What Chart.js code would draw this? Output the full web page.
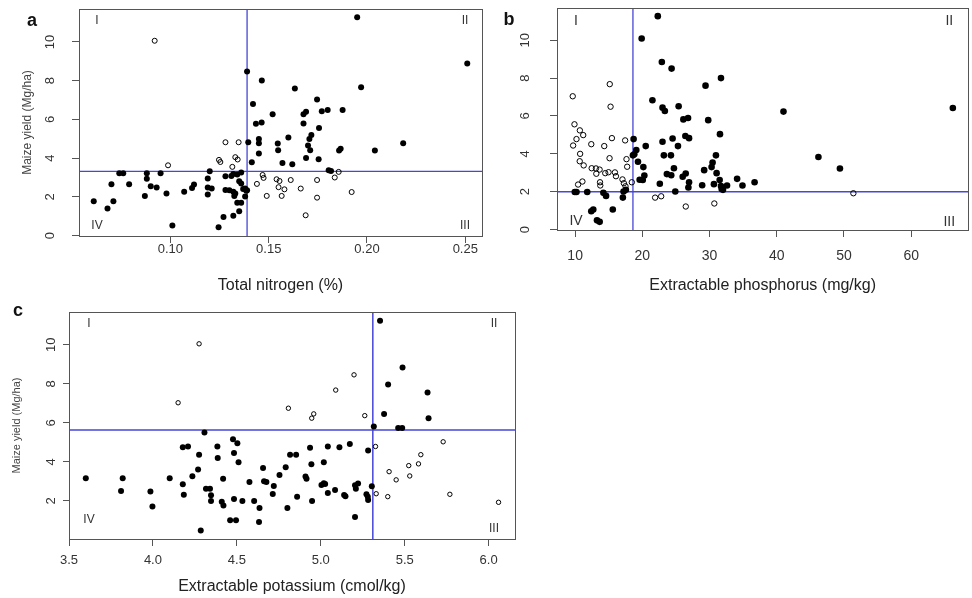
<!DOCTYPE html>
<html lang="en">
<head>
<meta charset="UTF-8" />
<title>Maize yield vs soil N, P, K</title>
<script src="https://cdn.jsdelivr.net/npm/chart.js"></script>
<style>
  body { margin: 0; background: #fff; }
  #wrap { position: relative; width: 972px; height: 598px; }
  canvas { position: absolute; }
</style>
</head>
<body>
<div id="wrap">
  <canvas id="chartA" width="490" height="300" style="left:0;top:0"></canvas>
  <canvas id="chartB" width="482" height="300" style="left:490px;top:0"></canvas>
  <canvas id="chartC" width="520" height="298" style="left:0;top:300px"></canvas>
</div>
<script>
// ---- data: [nutrient, maize yield Mg/ha] ----
// a: total nitrogen (%)
const nitrogenSolid = [
  [0.061,1.77],[0.068,1.40],[0.070,2.65],[0.074,3.22],[0.076,3.22],[0.071,1.77],[0.079,2.65],
  [0.088,3.22],[0.088,2.93],[0.090,2.55],[0.093,2.48],[0.087,2.05],[0.095,3.22],[0.098,2.17],
  [0.101,0.52],[0.107,2.27],[0.111,2.46],[0.112,2.64],[0.119,2.95],[0.119,2.48],[0.121,2.43],
  [0.119,2.12],[0.120,3.32],[0.128,3.06],[0.131,3.08],[0.132,3.18],[0.134,3.15],[0.136,3.26],
  [0.128,2.36],[0.130,2.34],[0.132,2.27],[0.133,2.17],[0.1325,2.05],[0.135,2.81],[0.136,2.69],
  [0.137,2.41],[0.138,2.43],[0.1386,2.31],[0.139,2.34],[0.138,2.02],[0.134,1.70],[0.136,1.70],
  [0.135,1.26],[0.132,1.03],[0.127,0.96],[0.1245,0.43],
  [0.139,8.47],[0.1465,8.01],[0.142,6.79],[0.1435,5.77],[0.1464,5.84],[0.1396,4.82],[0.145,4.99],
  [0.145,4.77],[0.145,4.24],[0.1414,3.79],[0.195,11.27],[0.251,8.89],[0.1633,7.60],[0.197,7.66],
  [0.1746,7.03],[0.152,6.27],[0.1677,6.27],[0.169,6.39],[0.177,6.42],[0.180,6.49],[0.1876,6.49],
  [0.1677,5.79],[0.1756,5.55],[0.1717,5.20],[0.1707,4.99],[0.160,5.06],[0.1546,4.75],[0.1548,4.41],
  [0.170,4.65],[0.1711,4.41],[0.169,4.01],[0.1754,3.94],[0.157,3.75],[0.162,3.68],[0.1858,4.39],
  [0.1866,4.48],[0.204,4.39],[0.2184,4.77],[0.1805,3.37],[0.1817,3.34]
];
const nitrogenOpen = [
  [0.092,10.06],[0.128,4.82],[0.1347,4.82],[0.1247,3.91],[0.1254,3.80],[0.133,4.05],[0.1342,3.93],
  [0.1315,3.55],[0.0988,3.63],[0.1469,3.13],[0.1474,2.98],[0.144,2.67],[0.149,2.05],[0.154,2.91],
  [0.1555,2.82],[0.155,2.50],[0.158,2.39],[0.1566,2.05],[0.1856,3.29],[0.1836,3.00],[0.1746,2.87],
  [0.1922,2.25],[0.1746,1.96],[0.1688,1.05],[0.1663,2.43],[0.1612,2.87]
];
const nitrogenCut = [0.139, 3.32];
const nitrogenTicks = [0.10, 0.15, 0.20, 0.25];

// b: extractable phosphorus (mg/kg)
const phosphorusSolid = [
  [22.3,11.27],[19.9,10.09],[22.9,8.85],[24.35,8.50],[21.5,6.83],[23.0,6.44],[23.35,6.26],
  [25.4,6.51],[26.1,5.82],[26.8,5.89],[29.8,5.78],[29.4,7.60],[31.7,8.00],[31.55,5.04],
  [18.7,4.78],[19.1,4.20],[18.8,3.98],[18.6,3.92],[20.5,4.41],[23.0,4.64],[24.5,4.81],
  [25.3,4.41],[26.4,4.94],[26.95,4.83],[19.35,3.58],[20.15,3.30],[20.3,2.86],[20.06,2.62],
  [19.6,2.63],[23.2,3.92],[24.25,3.92],[23.65,2.93],[24.3,2.87],[24.7,3.24],[22.6,2.42],
  [26.0,2.79],[26.45,2.96],[26.95,2.50],[26.85,2.22],[24.9,2.01],[29.2,3.14],[28.9,2.34],
  [30.45,3.54],[30.3,3.30],[30.95,3.92],[30.65,2.40],[31.05,2.98],[31.5,2.62],[31.7,2.30],
  [31.8,2.14],[32.0,2.10],[32.6,2.33],[34.1,2.68],[34.9,2.33],[36.7,2.50],[41.0,6.23],
  [66.2,6.42],[46.2,3.83],[49.4,3.23],[9.95,1.99],[10.2,1.99],[11.8,1.99],[14.2,1.94],
  [14.6,1.78],[12.4,0.97],[12.7,1.06],[13.25,0.49],[13.65,0.41],[15.6,1.06],[17.1,1.69],
  [17.2,2.01],[17.55,2.10]
];
const phosphorusOpen = [
  [9.64,7.04],[15.15,7.68],[15.27,6.49],[9.9,5.56],[10.7,5.24],[11.2,4.99],[10.2,4.78],
  [9.7,4.44],[12.4,4.51],[14.33,4.41],[15.47,4.83],[17.44,4.71],[10.74,4.00],[10.68,3.61],
  [11.27,3.39],[15.12,3.77],[17.64,3.72],[17.74,3.32],[12.46,3.24],[13.1,3.23],[13.64,3.17],
  [13.15,2.95],[14.48,2.98],[14.97,3.03],[15.92,3.02],[16.07,2.82],[13.7,2.50],[13.74,2.33],
  [11.08,2.54],[10.44,2.38],[17.04,2.65],[17.25,2.45],[17.49,2.29],[18.43,2.50],[21.9,1.69],
  [22.8,1.76],[26.46,1.22],[30.71,1.38],[51.4,1.92]
];
const phosphorusCut = [18.6, 2.0];
const phosphorusTicks = [10, 20, 30, 40, 50, 60];

// c: extractable potassium (cmol/kg)
const potassiumSolid = [
  [3.60,3.16],[3.82,3.16],[3.81,2.51],[3.985,2.48],[3.997,1.71],[4.10,3.16],[4.178,2.85],
  [4.184,2.32],[4.178,4.75],[4.209,4.79],[4.235,3.27],[4.269,3.61],[4.275,4.37],[4.307,5.50],
  [4.316,2.63],[4.34,2.63],[4.346,2.29],[4.346,2.00],[4.285,0.48],[4.384,4.79],[4.386,4.20],
  [4.418,3.14],[4.41,1.96],[4.42,1.76],[4.477,5.16],[4.503,4.96],[4.483,4.46],[4.51,3.98],
  [4.483,2.10],[4.533,2.00],[4.46,1.01],[4.495,1.01],[4.575,2.97],[4.603,2.00],[4.635,1.64],
  [4.632,0.92],[4.656,3.69],[4.662,3.01],[4.676,2.97],[4.72,2.77],[4.714,2.36],[4.754,3.33],
  [4.791,3.73],[4.801,1.64],[4.817,4.37],[4.853,4.37],[4.859,2.22],[4.909,3.25],[4.915,3.14],
  [4.936,4.72],[4.944,3.88],[4.948,2.00],[5.004,2.82],[5.018,2.91],[5.026,2.87],[5.018,3.98],
  [5.042,4.79],[5.042,2.41],[5.085,2.56],[5.111,4.75],[5.139,2.31],[5.147,2.24],[5.173,4.92],
  [5.204,2.81],[5.222,2.89],[5.209,2.63],[5.204,1.18],[5.272,2.34],[5.28,2.21],[5.282,2.05],
  [5.282,4.58],[5.304,2.75],[5.316,5.81],[5.353,11.23],[5.377,6.46],[5.401,7.97],[5.461,5.74],
  [5.485,5.74],[5.487,8.84],[5.636,7.55],[5.642,6.24]
];
const potassiumOpen = [
  [4.275,10.05],[4.15,7.03],[4.807,6.75],[4.958,6.46],[4.946,6.24],[5.089,7.68],[5.198,8.46],
  [5.262,6.37],[5.326,4.79],[5.729,5.03],[5.596,4.37],[5.582,3.90],[5.524,3.81],[5.407,3.50],
  [5.449,3.08],[5.53,3.28],[5.33,2.37],[5.399,2.22],[5.769,2.34],[6.059,1.93]
];
const potassiumCut = [5.31, 5.64];
const potassiumTicks = [3.5, 4.0, 4.5, 5.0, 5.5, 6.0];

const yieldTicks = [0, 2, 4, 6, 8, 10];
const yieldTicksC = [2, 4, 6, 8, 10];
const quadrants = ['I', 'II', 'III', 'IV'];

Chart.defaults.font.family = '"Liberation Sans", Arial, sans-serif';
const cutColor = 'rgb(70,70,215)';

// frame box, panel letter and quadrant numerals
const framePlugin = {
  id: 'frame',
  afterDatasetsDraw(chart, args, o) {
    const { ctx, chartArea: a } = chart;
    ctx.save();
    ctx.strokeStyle = '#555';
    ctx.lineWidth = 1;
    ctx.strokeRect(Math.round(a.left) + 0.5, Math.round(a.top) + 0.5,
      Math.round(a.right - a.left), Math.round(a.bottom - a.top));

    ctx.fillStyle = '#111';
    ctx.font = 'bold 18px "Liberation Sans", Arial, sans-serif';
    ctx.textAlign = 'center';
    ctx.textBaseline = 'middle';
    ctx.fillText(o.letter, o.letterX, o.letterY);

    ctx.fillStyle = '#333';
    ctx.font = o.quadSize + 'px "Liberation Sans", Arial, sans-serif';
    const q = o.quad; // [dxLeft, dxRight, dyTop, dyBottomLeft, dyBottomRight]
    ctx.fillText(quadrants[0], a.left + q[0], a.top + q[2]);
    ctx.fillText(quadrants[1], a.right - q[1], a.top + q[2]);
    ctx.fillText(quadrants[2], a.right - q[1], a.bottom - q[4]);
    ctx.fillText(quadrants[3], a.left + q[0], a.bottom - q[3]);
    ctx.restore();
  }
};

function panel(id, p) {
  const pts = arr => arr.map(d => ({ x: d[0], y: d[1] }));
  const fmt = v => p.dec ? Number(v).toFixed(p.dec) : String(v);
  return new Chart(document.getElementById(id), {
    type: 'scatter',
    data: {
      datasets: [
        { data: pts(p.solid), pointRadius: p.dot, pointHoverRadius: p.dot,
          backgroundColor: '#000', borderWidth: 0 },
        { data: pts(p.open), pointRadius: p.ring, pointHoverRadius: p.ring,
          backgroundColor: 'rgba(255,255,255,0)', borderColor: '#000', borderWidth: 1 },
        { type: 'line', data: [{ x: p.cut[0], y: p.ylim[0] }, { x: p.cut[0], y: p.ylim[1] }],
          borderColor: cutColor, borderWidth: p.lw, pointRadius: 0, fill: false },
        { type: 'line', data: [{ x: p.xlim[0], y: p.cut[1] }, { x: p.xlim[1], y: p.cut[1] }],
          borderColor: cutColor, borderWidth: p.lw, pointRadius: 0, fill: false }
      ]
    },
    options: {
      responsive: false,
      animation: false,
      devicePixelRatio: 1,
      layout: { padding: p.pad },
      plugins: {
        legend: { display: false },
        tooltip: { enabled: false },
        frame: p.frame
      },
      scales: {
        x: {
          type: 'linear', min: p.xlim[0], max: p.xlim[1],
          afterBuildTicks: s => { s.ticks = p.xticks.map(v => ({ value: v })); },
          afterFit: s => { s.height = p.xH; },
          grid: { drawOnChartArea: false, tickLength: 7, color: '#555' },
          border: { color: '#555' },
          ticks: { color: '#333', font: { size: p.xtSize }, padding: p.xtPad,
                   minRotation: 0, maxRotation: 0, callback: v => fmt(v) },
          title: { display: true, text: p.xtitle, color: '#222', font: { size: 16 },
                   padding: { top: 0, bottom: p.xtitlePad } }
        },
        y: {
          type: 'linear', min: p.ylim[0], max: p.ylim[1],
          afterBuildTicks: s => { s.ticks = p.yticks.map(v => ({ value: v })); },
          afterFit: s => { s.width = p.yW; s.paddingTop = 0; s.paddingBottom = 0; },
          grid: { drawOnChartArea: false, tickLength: p.ytl, color: '#555' },
          border: { color: '#555' },
          ticks: { color: '#333', font: { size: p.ytSize }, padding: p.ytPad,
                   minRotation: 90, maxRotation: 90, crossAlign: 'center' },
          title: { display: !!p.ytitle, text: p.ytitle || '', color: '#444',
                   font: { size: p.ytitleSize }, padding: { top: p.ytitlePad, bottom: 0 } }
        }
      }
    },
    plugins: [framePlugin]
  });
}

panel('chartA', {
  solid: nitrogenSolid, open: nitrogenOpen, cut: nitrogenCut,
  xlim: [0.0535, 0.2585], ylim: [-0.02, 11.7], xticks: nitrogenTicks, yticks: yieldTicks, dec: 2,
  dot: 3, ring: 2.5, lw: 1.3,
  pad: { top: 9, right: 8, left: 0, bottom: 0 }, xH: 64, yW: 79,
  xtSize: 13, xtPad: -1, xtitle: 'Total nitrogen (%)', xtitlePad: 5,
  ytSize: 13, ytPad: 14, ytl: 7, ytitle: 'Maize yield (Mg/ha)', ytitleSize: 12, ytitlePad: 20,
  frame: { letter: 'a', letterX: 32, letterY: 21, quadSize: 12, quad: [18, 17, 12, 10, 10] }
});

panel('chartB', {
  solid: phosphorusSolid, open: phosphorusOpen, cut: phosphorusCut,
  xlim: [7.3, 68.5], ylim: [-0.02, 11.7], xticks: phosphorusTicks, yticks: yieldTicks, dec: 0,
  dot: 3.3, ring: 2.7, lw: 1.3,
  pad: { top: 8, right: 1, left: 0, bottom: 0 }, xH: 70, yW: 67,
  xtSize: 14, xtPad: 11, xtitle: 'Extractable phosphorus (mg/kg)', xtitlePad: 5,
  ytSize: 13, ytPad: 17, ytl: 7, ytitle: '', ytitleSize: 12, ytitlePad: 0,
  frame: { letter: 'b', letterX: 19, letterY: 20, quadSize: 14, quad: [19, 19, 13, 9, 8] }
});

panel('chartC', {
  solid: potassiumSolid, open: potassiumOpen, cut: potassiumCut,
  xlim: [3.5, 6.157], ylim: [0.05, 11.68], xticks: potassiumTicks, yticks: yieldTicksC, dec: 1,
  dot: 3, ring: 2.2, lw: 1.5,
  pad: { top: 12, right: 5, left: 0, bottom: 0 }, xH: 59, yW: 69,
  xtSize: 13, xtPad: 7, xtitle: 'Extractable potassium (cmol/kg)', xtitlePad: 2,
  ytSize: 13, ytPad: 4, ytl: 6, ytitle: 'Maize yield (Mg/ha)', ytitleSize: 11, ytitlePad: 10,
  frame: { letter: 'c', letterX: 18, letterY: 11, quadSize: 12, quad: [20, 21, 12, 19, 10] }
});
</script>
</body>
</html>
